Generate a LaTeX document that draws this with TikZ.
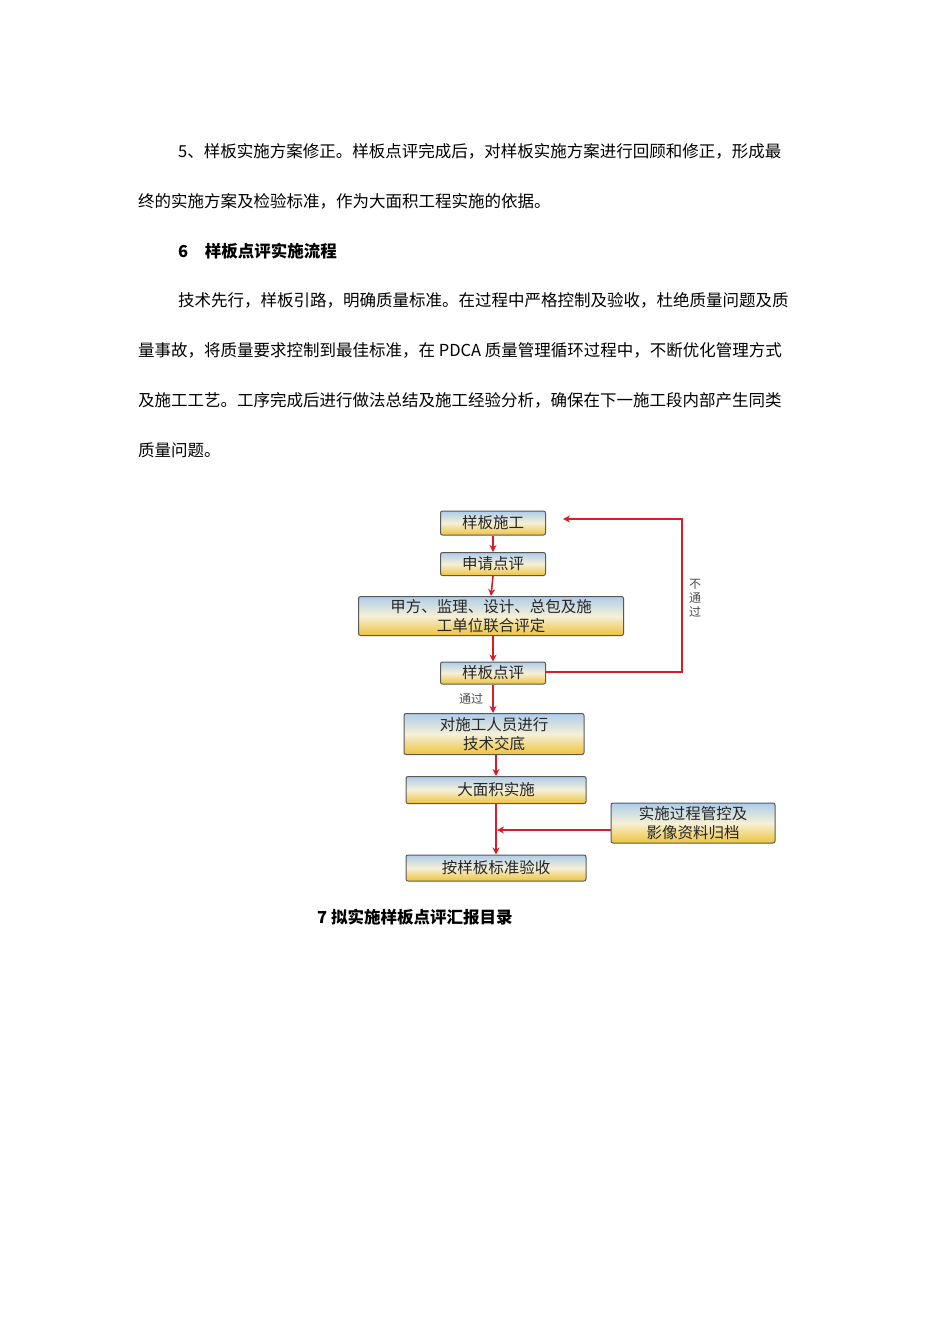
\documentclass[tikz,border=0pt]{standalone}
\usepackage{fontspec}
\usetikzlibrary{arrows.meta}
\setmainfont{Noto Sans CJK SC}
\newfontfamily\cjk{Noto Sans CJK SC}
\definecolor{arr}{RGB}{215,30,40}
\definecolor{topb}{RGB}{175,205,235}
\definecolor{botb}{RGB}{238,195,60}
\definecolor{midb}{RGB}{245,240,215}
\begin{document}
\begin{tikzpicture}[x=1pt,y=-1pt,
 txt/.style={anchor=west,inner sep=0pt,font=\fontsize{16.5}{18}\selectfont},
 fbox/.style={draw=black!65,line width=1pt,rounded corners=2pt,top color=topb,bottom color=botb,middle color=midb,
   font=\fontsize{15.5}{19}\selectfont,inner sep=0pt,align=center,text=black!85},
 ar/.style={draw=arr,line width=1.6pt,-{Stealth[length=7pt,width=7pt]}}]
\useasboundingbox[fill=white] (0,0) rectangle (950,1344);
\node[txt] (l1) at (178,151) {5、样板实施方案修正。样板点评完成后，对样板实施方案进行回顾和修正，形成最};
\node[txt] (l2) at (138,201) {终的实施方案及检验标准，作为大面积工程实施的依据。};
\node[txt,font=\fontsize{16.5}{18}\selectfont\bfseries] (h6) at (178,251) {6\quad 样板点评实施流程};
\node[txt] (p1) at (178,300) {技术先行，样板引路，明确质量标准。在过程中严格控制及验收，杜绝质量问题及质};
\node[txt] (p2) at (138,350) {量事故，将质量要求控制到最佳标准，在 PDCA 质量管理循环过程中，不断优化管理方式};
\node[txt] (p3) at (138,400) {及施工工艺。工序完成后进行做法总结及施工经验分析，确保在下一施工段内部产生同类};
\node[txt] (p4) at (138,450) {质量问题。};
\node[txt,font=\fontsize{16.5}{18}\selectfont\bfseries] (cap) at (317,917) {7 拟实施样板点评汇报目录};

\node[fbox,minimum width=105pt,minimum height=24pt] (a) at (493,523) {样板施工};
\node[fbox,minimum width=105pt,minimum height=23pt] (b) at (493,564) {申请点评};
\node[fbox,minimum width=265pt,minimum height=39pt] (c) at (491,616) {甲方、监理、设计、总包及施\\工单位联合评定};
\node[fbox,minimum width=105pt,minimum height=22pt] (d) at (493,673) {样板点评};
\node[fbox,minimum width=180pt,minimum height=41pt] (e) at (494,734) {对施工人员进行\\技术交底};
\node[fbox,minimum width=180pt,minimum height=27pt] (f) at (496,790) {大面积实施};
\node[fbox,minimum width=164pt,minimum height=40pt] (g) at (693,823) {实施过程管控及\\影像资料归档};
\node[fbox,minimum width=180pt,minimum height=26pt] (h) at (496,868) {按样板标准验收};

\draw[ar] (a.south) -- (b.north);
\draw[ar] (b.south) -- (c.north);
\draw[ar] (c.south -| d.north) -- (d.north);
\draw[ar] (d.south) -- (e.north -| d.south);
\draw[ar] (e.south -| f.north) -- (f.north);
\draw[ar] (f.south) -- (h.north);
\coordinate (m) at (497,830);
\draw[ar] (g.west |- m) -- (m);
\coordinate (r1) at (682,672);
\coordinate (r2) at (682,519);
\coordinate (r3) at (563,519);
\draw[ar] (d.east |- r1) -- (r1) -- (r2) -- (r3);
\node[font=\fontsize{12}{14}\selectfont,text=black!70,align=center] (np) at (695,598) {不\\通\\过};
\node[font=\fontsize{12}{14}\selectfont,text=black!70] (pp) at (471,699) {通过};
\end{tikzpicture}
\end{document}
